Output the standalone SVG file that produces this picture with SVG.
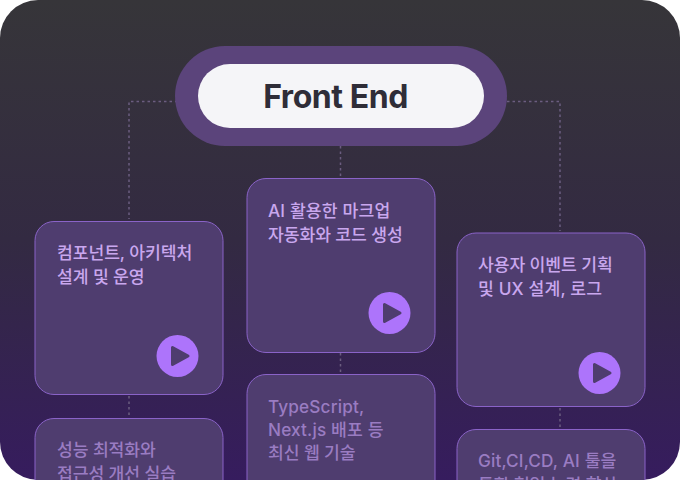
<svg xmlns="http://www.w3.org/2000/svg" width="680" height="480" viewBox="0 0 680 480">
<style>
text{font-family:"Inter","Noto Sans CJK KR",sans-serif}
.card{fill:#4f3d6f;stroke:#8a63c8;stroke-width:1}
.t{font-size:17.200px;font-weight:500;fill:#c9a7ee;letter-spacing:-.1px}
.f{font-size:17.200px;font-weight:500;fill:#9a7cc2;letter-spacing:-.1px}
.w{letter-spacing:.15px}
.c{fill:none;stroke:#6b5d80;stroke-width:1.5;stroke-dasharray:2.500 3}
.play{fill:#ad74fb}
.tri{fill:#4f3d6f;stroke:#4f3d6f;stroke-width:3;stroke-linejoin:round}
</style>
<defs>
<linearGradient id="bg" x1="0" y1="0" x2="0" y2="1"><stop offset="0" stop-color="#363539"/><stop offset=".5" stop-color="#332a42"/><stop offset="1" stop-color="#361c5e"/></linearGradient>
</defs>
<rect width="680" height="480" fill="#fff"/>
<path id="background" d="M38 0H642A38 38 0 0 1 680 38V442A38 38 0 0 1 642 480H38A38 38 0 0 1 0 442V38A38 38 0 0 1 38 0Z" fill="url(#bg)"/>
<g id="connectors">
<path class="c" d="M183 101.500H129V219"/>
<path class="c" d="M507 101.500H560V231"/>
<path class="c" d="M340.500 146V178"/>
<path class="c" d="M129 396V417"/>
<path class="c" d="M340.500 353V374"/>
<path class="c" d="M560 408V429"/>
</g>
<g id="node-root">
<rect x="175" y="46" width="332" height="100" rx="50" fill="#5b447b"/>
<rect x="198" y="64" width="286" height="64" rx="32" fill="#f5f5f8"/>
<text x="335.500" y="108" text-anchor="middle" font-size="32" font-weight="700" fill="#2f2d38" letter-spacing="-.45">Front End</text>
</g>
<g id="node-1">
<rect class="card" x="35" y="221.500" width="188" height="173" rx="19"/>
<text class="t" x="57" y="259">컴포넌트, 아키텍처</text>
<text class="t" x="57" y="283">설계 및 운영</text>
<circle class="play" cx="177.500" cy="356" r="21"/>
<path class="tri" d="M172.500 347.500V364.500L188 356Z"/>
</g>
<g id="node-2">
<rect class="card" x="247" y="178.500" width="188" height="174" rx="19"/>
<text class="t w" x="268" y="216.500">AI 활용한 마크업</text>
<text class="t" x="268" y="240.500">자동화와 코드 생성</text>
<circle class="play" cx="389.500" cy="313" r="21"/>
<path class="tri" d="M384.500 304.500V321.500L400 313Z"/>
</g>
<g id="node-3">
<rect class="card" x="457" y="233" width="188" height="173.500" rx="19"/>
<text class="t" x="478" y="270.500">사용자 이벤트 기획</text>
<text class="t w" x="478" y="294.500">및 UX 설계, 로그</text>
<circle class="play" cx="599.500" cy="373" r="21"/>
<path class="tri" d="M594.500 364.500V381.500L610 373Z"/>
</g>
<g id="node-4">
<rect class="card" x="35" y="418.500" width="188" height="173" rx="19"/>
<text class="f" x="57" y="456">성능 최적화와</text>
<text class="f" x="57" y="480">접근성 개선 실습</text>
</g>
<g id="node-5">
<rect class="card" x="247" y="374.500" width="188" height="173" rx="19"/>
<text class="f w" x="268" y="412.500">TypeScript,</text>
<text class="f w" x="268" y="436">Next.js 배포 등</text>
<text class="f" x="268" y="458.500">최신 웹 기술</text>
</g>
<g id="node-6">
<rect class="card" x="457" y="429.500" width="188" height="173" rx="19"/>
<text class="f w" x="478" y="467">Git,CI,CD, AI 툴을</text>
<text class="f" x="478" y="491">통한 협업 능력 향상</text>
</g>
</svg>
